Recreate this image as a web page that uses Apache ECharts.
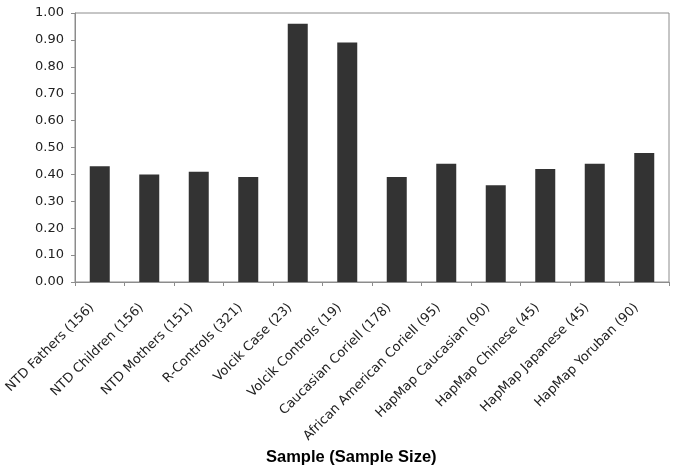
<!DOCTYPE html>
<html>
<head>
<meta charset="utf-8">
<script src="https://cdn.jsdelivr.net/npm/echarts@6/dist/echarts.min.js"></script>
<style>
  html, body { margin: 0; padding: 0; background: #fff; }
  #chart { width: 688px; height: 471px; }
</style>
</head>
<body>
<div id="chart"></div>
<script>
// sample groups and their frequencies
const categories = [
  'NTD Fathers (156)', 'NTD Children (156)', 'NTD Mothers (151)', 'R-Controls (321)',
  'Volcik Case (23)', 'Volcik Controls (19)', 'Caucasian Coriell (178)',
  'African American Coriell (95)', 'HapMap Caucasian (90)', 'HapMap Chinese (45)',
  'HapMap Japanese (45)', 'HapMap Yoruban (90)'
];
const values = [0.43, 0.40, 0.41, 0.39, 0.96, 0.89, 0.39, 0.44, 0.36, 0.42, 0.44, 0.48];
const yTicks = { min: 0, max: 1, step: 0.1 };

const axisGray = '#8c8c8c';
const font = 'Verdana, "DejaVu Sans", sans-serif';

const option = {
  backgroundColor: '#ffffff',
  animation: false,
  grid: {
    left: 75,
    right: 19,
    top: 13,
    bottom: 189,
    show: true,
    borderColor: axisGray,
    borderWidth: 1
  },
  graphic: [{
    type: 'text',
    left: 266,
    top: 449,
    style: {
      text: 'Sample (Sample Size)',
      font: 'bold 16.5px Arial, "Liberation Sans", sans-serif',
      fill: '#000'
    }
  }],
  xAxis: {
    type: 'category',
    data: categories,
    boundaryGap: true,
    axisLine: { lineStyle: { color: axisGray } },
    axisTick: { show: true, length: 4, lineStyle: { color: axisGray } },
    axisLabel: {
      interval: 0,
      rotate: 45,
      margin: 16,
      padding: [0, 11, 0, 0],
      color: '#222',
      fontFamily: font,
      fontSize: 13
    },
    splitLine: { show: false }
  },
  yAxis: {
    type: 'value',
    min: yTicks.min,
    max: yTicks.max,
    interval: yTicks.step,
    axisLine: { show: true, lineStyle: { color: axisGray } },
    axisTick: { show: true, length: 4, lineStyle: { color: axisGray } },
    axisLabel: {
      margin: 11,
      color: '#222',
      fontFamily: font,
      fontSize: 13,
      formatter: v => v.toFixed(2)
    },
    splitLine: { show: false }
  },
  series: [{
    type: 'bar',
    data: values,
    barWidth: 20,
    itemStyle: { color: '#333333' }
  }]
};

const myChart = echarts.init(document.getElementById('chart'));
myChart.setOption(option);
</script>
</body>
</html>
